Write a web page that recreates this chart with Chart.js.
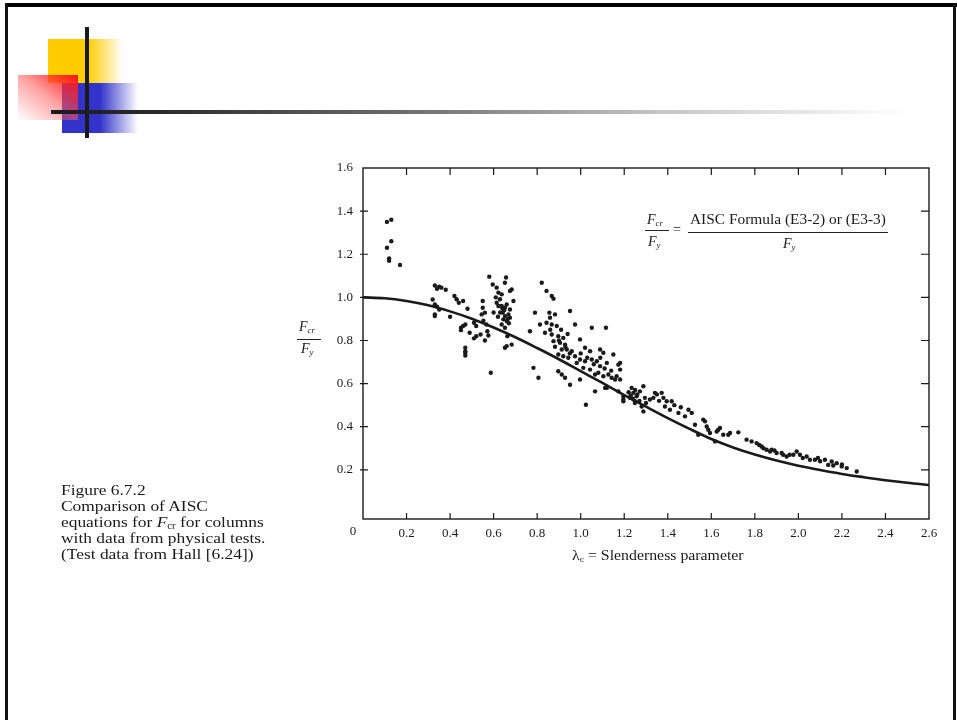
<!DOCTYPE html>
<html>
<head>
<meta charset="utf-8">
<script src="https://cdn.jsdelivr.net/npm/chart.js@4/dist/chart.umd.min.js"></script>
<style>
  html, body { margin: 0; padding: 0; background: #fff; }
  body { width: 957px; height: 720px; overflow: hidden; position: relative; font-family: "Liberation Serif", "DejaVu Serif", serif; color: #1a1a1a; }
  .abs { position: absolute; }
  .frame-top { left: 5px; top: 3px; width: 952px; height: 4px; background: #000; }
  .frame-left { left: 5px; top: 3px; width: 3px; height: 717px; background: #111; }
  .frame-right { left: 953px; top: 3px; width: 3px; height: 717px; background: #111; }
  .sq-yellow { left: 48px; top: 39px; width: 75px; height: 44px;
    background: linear-gradient(to right, #ffcc00 0%, #ffcc00 53%, rgba(255,204,0,0) 100%); }
  .sq-blue { left: 62px; top: 83px; width: 76px; height: 50px;
    background: linear-gradient(to right, #3333cc 0%, #3333cc 50%, rgba(51,51,204,0) 100%); }
  .sq-red { left: 18px; top: 75px; width: 60px; height: 45px;
    background: linear-gradient(to bottom left, #ff1010 0%, rgba(255,90,90,0.55) 50%, rgba(255,255,255,0) 100%); }
  .bar-v { left: 85px; top: 27px; width: 4px; height: 111px; background: #1a1a1a; }
  .bar-h { left: 51px; top: 110px; width: 860px; height: 4px;
    background: linear-gradient(to right, #1a1a1a 0%, #2a2a2a 12%, #6a6a6a 40%, #c8c8c8 72%, rgba(255,255,255,0) 100%); }
  canvas#chart { position: absolute; left: 0; top: 0; }
  .stretch { transform-origin: 0 0; transform: scaleX(1.16); }
  .caption { left: 61px; top: 482px; font-size: 15px; line-height: 16px; white-space: nowrap; }
  .it { font-style: italic; }
  sub { font-size: 0.62em; vertical-align: -0.25em; line-height: 0; }
  .rule { background: #222; height: 1px; }
  .formula { font-size: 14px; white-space: nowrap; }
  .axis-title { font-size: 14px; white-space: nowrap; }
</style>
</head>
<body>
<div class="abs frame-top"></div>
<div class="abs frame-left"></div>
<div class="abs frame-right"></div>
<div class="abs sq-yellow"></div>
<div class="abs sq-blue"></div>
<div class="abs sq-red"></div>
<div class="abs bar-v"></div>
<div class="abs bar-h"></div>

<canvas id="chart" width="957" height="720"></canvas>

<!-- y-axis title: Fcr / Fy -->
<div class="abs axis-title it" style="left:299px; top:319px; font-size:14px;">F<sub>cr</sub></div>
<div class="abs rule" style="left:297px; top:339px; width:24px;"></div>
<div class="abs axis-title it" style="left:301px; top:341px; font-size:14px;">F<sub>y</sub></div>

<!-- x-axis title -->
<div class="abs axis-title stretch" style="left:572px; top:548px; transform: scaleX(1.13);">λ<sub>c</sub> = Slenderness parameter</div>

<!-- formula key -->
<div class="abs formula it" style="left:647px; top:212px;">F<sub>cr</sub></div>
<div class="abs rule" style="left:645px; top:230px; width:24px;"></div>
<div class="abs formula it" style="left:648px; top:234px;">F<sub>y</sub></div>
<div class="abs formula" style="left:673px; top:222px;">=</div>
<div class="abs formula stretch" style="left:690px; top:212px; transform: scaleX(1.1);">AISC Formula (E3-2) or (E3-3)</div>
<div class="abs rule" style="left:688px; top:232px; width:200px;"></div>
<div class="abs formula it" style="left:783px; top:236px;">F<sub>y</sub></div>

<!-- figure caption -->
<div class="abs caption stretch">Figure 6.7.2<br>Comparison of AISC<br>equations for <span class="it">F</span><sub>cr</sub> for columns<br>with data from physical tests.<br>(Test data from Hall [6.24])</div>

<script>
// Test results: slenderness parameter and Fcr/Fy for each column
const testLambda = [
  0.11, 0.13, 0.13, 0.11, 0.12, 0.12, 0.17,
  0.33, 0.35, 0.36, 0.38, 0.34, 0.32, 0.33, 0.34, 0.35, 0.33, 0.33, 0.40,
  0.42, 0.43, 0.44, 0.46, 0.48, 0.45, 0.46, 0.45, 0.47, 0.49, 0.51, 0.52,
  0.54, 0.52, 0.47, 0.47, 0.47, 0.47, 0.55, 0.55, 0.56, 0.545, 0.567, 0.571,
  0.576, 0.553, 0.58, 0.587, 0.596, 0.614, 0.622, 0.657, 0.652, 0.637, 0.629,
  0.614, 0.622, 0.637, 0.652, 0.66, 0.675, 0.642, 0.652, 0.668, 0.645, 0.66,
  0.637, 0.652, 0.675, 0.691, 0.683, 0.663, 0.66, 0.683, 0.652, 0.675, 0.63,
  0.648, 0.665, 0.62, 0.67, 0.64, 0.61, 0.60, 0.51, 0.56,
  0.821, 0.843, 0.867, 0.875, 0.951, 0.79, 0.856, 0.859, 0.882, 0.813, 0.843,
  0.867, 0.89, 0.974, 1.051, 1.116, 0.767, 0.836, 0.867, 0.897, 0.92, 0.997,
  0.875, 0.905, 0.928, 0.882, 0.913, 0.936, 0.959, 1.02, 1.043, 1.089, 1.104,
  0.897, 0.92, 0.943, 0.974, 0.997, 0.982, 1.02, 1.051, 1.074, 1.089, 1.12,
  1.15, 1.173, 1.181, 1.012, 1.043, 1.066, 1.081, 1.104, 1.127, 1.142, 1.158,
  0.783, 0.806, 0.897, 0.913, 0.928, 0.951, 0.997, 1.066, 1.12, 1.024, 1.173,
  1.196, 1.234, 1.242, 1.257, 1.226, 1.249, 1.272, 1.288, 1.295, 1.28, 1.196,
  0.90, 0.93, 0.95, 1.00, 1.03, 1.06, 0.91, 0.94, 0.86, 1.09, 1.11, 1.14,
  1.165, 1.181, 1.181, 1.112, 1.196, 1.249, 1.22, 1.26, 1.24, 1.27, 1.23, 1.25,
  1.318, 1.334, 1.341, 1.372, 1.38, 1.395, 1.418, 1.387, 1.41, 1.449, 1.479,
  1.495, 1.51, 1.525, 1.54, 1.563, 1.579, 1.586, 1.617, 1.625, 1.64, 1.655,
  1.678, 1.686, 1.724, 1.762, 1.785, 1.808, 1.571, 1.594, 1.632, 1.35, 1.36,
  1.30, 1.288, 1.43, 1.46,
  1.831, 1.854, 1.877, 1.9, 1.923, 1.946, 1.977, 1.992, 2.007, 2.038, 2.053,
  2.076, 2.122, 2.137, 2.153, 2.176, 2.199, 2.222, 2.268, 1.84, 1.87, 1.89,
  1.93, 1.96, 2.02, 2.10, 2.16, 2.20, 2.09, 1.82
];
const testRatio = [
  1.35, 1.36, 1.26, 1.23, 1.17, 1.18, 1.15,
  1.055, 1.05, 1.045, 1.035, 1.04, 0.99, 0.967, 0.957, 0.944, 0.921, 0.913, 0.91,
  1.006, 0.991, 0.975, 0.983, 0.947, 0.859, 0.867, 0.848, 0.874, 0.836, 0.882, 0.82,
  0.828, 0.867, 0.766, 0.75, 0.73, 0.743, 0.983, 0.952, 0.929, 0.921, 0.874, 0.843,
  0.823, 0.892, 1.096, 0.65, 1.06, 1.045, 1.022, 1.092, 1.068, 1.014, 0.991,
  0.975, 0.96, 0.96, 0.952, 0.967, 0.944, 0.929, 0.913, 0.921, 0.898, 0.89,
  0.874, 0.859, 0.906, 0.983, 1.037, 0.82, 0.774, 0.781, 0.766, 1.03, 0.93,
  0.94, 0.90, 0.91, 0.88, 0.95, 1.00, 0.93, 0.81, 0.80,
  1.068, 1.03, 1.006, 0.994, 0.937, 0.929, 0.929, 0.906, 0.921, 0.874, 0.882,
  0.874, 0.867, 0.874, 0.859, 0.859, 0.843, 0.836, 0.828, 0.82, 0.812, 0.805,
  0.797, 0.789, 0.781, 0.771, 0.758, 0.758, 0.75, 0.766, 0.75, 0.758, 0.743,
  0.735, 0.727, 0.72, 0.727, 0.712, 0.696, 0.704, 0.712, 0.704, 0.681, 0.696,
  0.735, 0.688, 0.665, 0.673, 0.665, 0.642, 0.65, 0.634, 0.642, 0.627, 0.619,
  0.673, 0.627, 0.657, 0.642, 0.627, 0.595, 0.619, 0.564, 0.58, 0.502, 0.564,
  0.541, 0.58, 0.557, 0.541, 0.534, 0.518, 0.564, 0.588, 0.534, 0.494, 0.518,
  0.80, 0.77, 0.74, 0.74, 0.72, 0.69, 0.85, 0.83, 0.85, 0.72, 0.67, 0.66,
  0.634, 0.696, 0.619, 0.58, 0.526, 0.51, 0.56, 0.55, 0.53, 0.52, 0.545, 0.57,
  0.526, 0.534, 0.557, 0.557, 0.534, 0.518, 0.518, 0.494, 0.479, 0.464, 0.448,
  0.479, 0.464, 0.409, 0.363, 0.433, 0.401, 0.386, 0.332, 0.378, 0.394, 0.363,
  0.363, 0.371, 0.374, 0.34, 0.332, 0.324, 0.425, 0.371, 0.386, 0.55, 0.52,
  0.51, 0.471, 0.50, 0.49,
  0.308, 0.293, 0.293, 0.278, 0.278, 0.262, 0.27, 0.285, 0.27, 0.262, 0.247,
  0.247, 0.247, 0.223, 0.239, 0.231, 0.216, 0.208, 0.192, 0.30, 0.285, 0.29,
  0.27, 0.27, 0.255, 0.24, 0.22, 0.225, 0.255, 0.315
];

// Design curve (AISC column formula), sampled along the slenderness axis
const curveLambda = [0, 0.1, 0.2, 0.3, 0.4, 0.5, 0.6, 0.7, 0.8, 0.9, 1.0, 1.1, 1.2,
  1.3, 1.4, 1.5, 1.6, 1.7, 1.8, 1.9, 2.0, 2.1, 2.2, 2.3, 2.4, 2.5, 2.6];
const curveRatio = [1.000, 0.996, 0.983, 0.963, 0.935, 0.901, 0.860, 0.815, 0.765,
  0.713, 0.658, 0.603, 0.547, 0.493, 0.440, 0.390, 0.343, 0.304, 0.271, 0.243,
  0.219, 0.199, 0.181, 0.166, 0.152, 0.140, 0.130];

// Axis ticks
const xTicks = [0.2, 0.4, 0.6, 0.8, 1.0, 1.2, 1.4, 1.6, 1.8, 2.0, 2.2, 2.4, 2.6];
const xTickLabels = ['0.2', '0.4', '0.6', '0.8', '1.0', '1.2', '1.4', '1.6', '1.8', '2.0', '2.2', '2.4', '2.6'];
const yTicks = [0.2, 0.4, 0.6, 0.8, 1.0, 1.2, 1.4, 1.6];
const yTickLabels = ['0.2', '0.4', '0.6', '0.8', '1.0', '1.2', '1.4', '1.6'];
const originLabel = '0';

const ink = '#1a1a1a';
const tickFont = { family: '"Liberation Serif", serif', size: 13 };

// Plot frame with inward tick marks on all four sides, plus the shared origin label
const framePlugin = {
  id: 'frame',
  afterDatasetsDraw(chart) {
    const { ctx, chartArea: a, scales: { x, y } } = chart;
    ctx.save();
    ctx.strokeStyle = ink;
    ctx.lineWidth = 1.4;
    ctx.strokeRect(a.left, a.top, a.right - a.left, a.bottom - a.top);
    ctx.lineWidth = 1.2;
    ctx.beginPath();
    xTicks.forEach(v => {
      const px = x.getPixelForValue(v);
      if (v < 2.6) {
        ctx.moveTo(px, a.bottom); ctx.lineTo(px, a.bottom - 6);
        ctx.moveTo(px, a.top); ctx.lineTo(px, a.top + 7);
      }
    });
    yTicks.forEach(v => {
      const py = y.getPixelForValue(v);
      if (v < 1.6) {
        ctx.moveTo(a.left - 3, py); ctx.lineTo(a.left + 5, py);
        ctx.moveTo(a.right, py); ctx.lineTo(a.right - 8, py);
      }
    });
    ctx.stroke();
    ctx.fillStyle = ink;
    ctx.font = '13px "Liberation Serif", serif';
    ctx.textAlign = 'center';
    ctx.textBaseline = 'middle';
    ctx.fillText(originLabel, a.left - 10, a.bottom + 13);
    ctx.restore();
  }
};

const points = testLambda.map((v, i) => ({ x: v, y: testRatio[i] }));
const curve = curveLambda.map((v, i) => ({ x: v, y: curveRatio[i] }));

new Chart(document.getElementById('chart'), {
  type: 'scatter',
  data: {
    datasets: [
      {
        label: 'Test data',
        data: points,
        pointRadius: 2.2,
        pointStyle: 'circle',
        backgroundColor: ink,
        borderColor: ink,
        borderWidth: 0
      },
      {
        label: 'AISC formula',
        type: 'line',
        data: curve,
        showLine: true,
        borderColor: ink,
        borderWidth: 2.6,
        pointRadius: 0,
        cubicInterpolationMode: 'monotone',
        fill: false
      }
    ]
  },
  options: {
    responsive: false,
    animation: false,
    layout: { padding: { left: 0, top: 168, right: 28, bottom: 0 } },
    plugins: { legend: { display: false }, tooltip: { enabled: false } },
    scales: {
      x: {
        type: 'linear',
        min: 0,
        max: 2.6,
        afterBuildTicks: s => { s.ticks = xTicks.map(v => ({ value: v })); },
        afterFit: s => { s.height = 201; },
        grid: { display: false, drawTicks: false },
        border: { display: false },
        ticks: {
          autoSkip: false, maxRotation: 0, padding: 7, color: ink, font: tickFont,
          callback: (v, i) => xTickLabels[i]
        }
      },
      y: {
        type: 'linear',
        min: -0.028,
        max: 1.6,
        afterBuildTicks: s => { s.ticks = yTicks.map(v => ({ value: v })); },
        afterFit: s => { s.width = 363; },
        grid: { display: false, drawTicks: false },
        border: { display: false },
        ticks: {
          autoSkip: false, padding: 10, color: ink, font: tickFont,
          callback: (v, i) => yTickLabels[i]
        }
      }
    }
  },
  plugins: [framePlugin]
});
</script>
</body>
</html>
